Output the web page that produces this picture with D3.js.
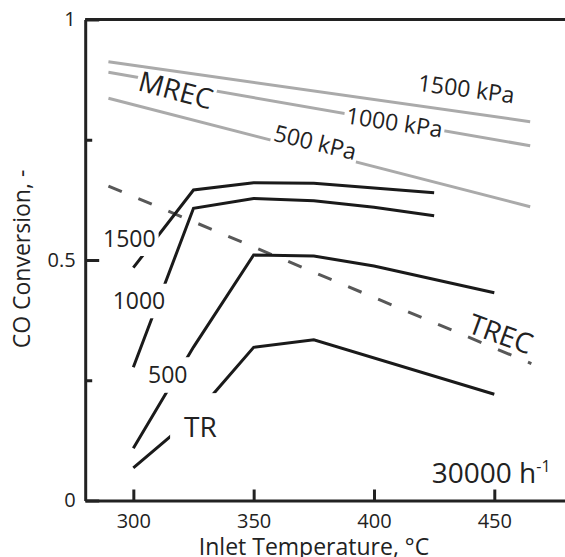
<!DOCTYPE html>
<html>
<head>
<meta charset="utf-8">
<script src="https://cdn.jsdelivr.net/npm/d3@7"></script>
<style>
  body { margin: 0; background: #fff; }
  text { font-family: "Open Sans", sans-serif; fill: #222; }
</style>
</head>
<body>
<div id="chart"></div>
<script>
// Data (CO conversion vs inlet temperature, 30000 h-1)
const tempsTR = [300, 325, 350, 375, 450];
const convTR = [0.068, 0.174, 0.3185, 0.334, 0.221];

const temps500 = [300, 325, 350, 375, 400, 450];
const conv500 = [0.1085, 0.319, 0.5104, 0.5083, 0.4875, 0.432];

const tempsHigh = [300, 325, 350, 375, 400, 425];
const conv1000 = [0.277, 0.6075, 0.628, 0.623, 0.6096, 0.592];
const conv1500 = [0.484, 0.6455, 0.6607, 0.6595, 0.6497, 0.640];

// equilibrium lines (membrane reactor MREC, traditional reactor TREC)
const recTemps = [289.65, 464.9];
const mrec1500 = [0.9123, 0.7875];
const mrec1000 = [0.8902, 0.7376];
const mrec500 = [0.8362, 0.6108];
const trecTemps = [289.65, 465.4];
const trec = [0.6538, 0.2848];

const xTicks = [300, 350, 400, 450];
const yTicks = [0, 0.5, 1];
const yMinor = [0.25, 0.75];

const W = 565, H = 557;
const svg = d3.select("#chart").append("svg")
    .attr("width", W).attr("height", H);

const x = d3.scaleLinear().domain([280, 480]).range([85.2, 566.5]);
const y = d3.scaleLinear().domain([0, 1]).range([500.5, 19.5]);

const line = d3.line().x(d => x(d[0])).y(d => y(d[1]));

// gray MREC lines
[mrec1500, mrec1000, mrec500].forEach(v => {
  svg.append("path").datum(d3.zip(recTemps, v))
    .attr("d", line).attr("fill", "none")
    .attr("stroke", "#aaaaaa").attr("stroke-width", 3);
});

// dashed TREC
svg.append("path").datum(d3.zip(trecTemps, trec))
  .attr("d", line).attr("fill", "none")
  .attr("stroke", "#585858").attr("stroke-width", 3)
  .attr("stroke-dasharray", "14.5,18");

// black reactor lines
[[tempsTR, convTR], [temps500, conv500], [tempsHigh, conv1000], [tempsHigh, conv1500]].forEach(s => {
  svg.append("path").datum(d3.zip(s[0], s[1]))
    .attr("d", line).attr("fill", "none")
    .attr("stroke", "#1a1a1a").attr("stroke-width", 3);
});

// labels; gap = white box behind the text [left, top, right, bottom]
const labels = [
  { text: "1500", t: 287.4, v: 0.527, rot: 0, size: 23, gap: [3, 3, 3, 9] },
  { text: "1000", t: 291.4, v: 0.3975, rot: 0, size: 23, gap: [3, 9, 2, 9] },
  { text: "500", t: 306.1, v: 0.2437, rot: 0, size: 23, gap: [3, 9.5, 3, 9.5] },
  { text: "TR", t: 321.1, v: 0.1314, rot: 0, size: 28, gap: [14, 24, 2, 9] },
  { text: "MREC", t: 301.4, v: 0.8534, rot: 15, size: 28, gap: [2, 2, 2, 2] },
  { text: "TREC", t: 438.4, v: 0.3501, rot: 20, size: 28, gap: null },
  { text: "1500 kPa", t: 417.9, v: 0.852, rot: 7.5, size: 23, gap: null },
  { text: "1000 kPa", t: 388, v: 0.7842, rot: 8.5, size: 23, gap: [2, 2, 2, 2] },
  { text: "500 kPa", t: 357.8, v: 0.7484, rot: 13.5, size: 23, gap: [2, 2, 2, 4] }
];

labels.forEach(l => {
  const g = svg.append("g")
    .attr("transform", `translate(${x(l.t)},${y(l.v)}) rotate(${l.rot})`);
  const rect = g.append("rect").attr("fill", "#fff");
  const txt = g.append("text").attr("font-size", l.size).text(l.text);
  if (l.gap) {
    const w = txt.node().getComputedTextLength();
    const cap = l.size * 0.72;
    rect.attr("x", -l.gap[0]).attr("y", -cap - l.gap[1])
      .attr("width", w + l.gap[0] + l.gap[2])
      .attr("height", cap + l.gap[1] + l.gap[3]);
  } else {
    rect.remove();
  }
});

// space velocity note
const sv = svg.append("text")
  .attr("x", x(424)).attr("y", y(0.0358))
  .attr("font-size", 28);
sv.append("tspan").text("30000 h");
sv.append("tspan").attr("font-size", 16).attr("dy", -11).text("-1");

// axes
const xAxis = svg.append("g")
  .attr("transform", `translate(0,${y(0)})`)
  .call(d3.axisBottom(x).tickValues(xTicks).tickSizeInner(-11).tickSizeOuter(0).tickPadding(13));

const yAxis = svg.append("g")
  .attr("transform", `translate(${x(280)},0)`)
  .call(d3.axisLeft(y).tickValues(yTicks).tickFormat(d3.format("")).tickSizeInner(-14).tickSizeOuter(0).tickPadding(9.5));

svg.append("g")
  .attr("transform", `translate(${x(280)},0)`)
  .call(d3.axisLeft(y).tickValues(yMinor).tickFormat("").tickSizeInner(-7).tickSizeOuter(0))
  .select(".domain").remove();

// top border
svg.append("line")
  .attr("x1", x(280)).attr("x2", x(480))
  .attr("y1", y(1)).attr("y2", y(1))
  .attr("stroke", "#222").attr("stroke-width", 3);

svg.selectAll(".domain, .tick line").attr("stroke", "#222").attr("stroke-width", 3);
svg.selectAll(".tick text").attr("font-size", 20).attr("fill", "#222")
  .style("font-family", "'Open Sans', sans-serif");

// axis titles
svg.append("text")
  .attr("x", 314).attr("y", 555)
  .attr("text-anchor", "middle").attr("font-size", 23)
  .text("Inlet Temperature, °C");

svg.append("text")
  .attr("transform", `translate(30,${259}) rotate(-90)`)
  .attr("text-anchor", "middle").attr("font-size", 23)
  .text("CO Conversion, -");
</script>
</body>
</html>
